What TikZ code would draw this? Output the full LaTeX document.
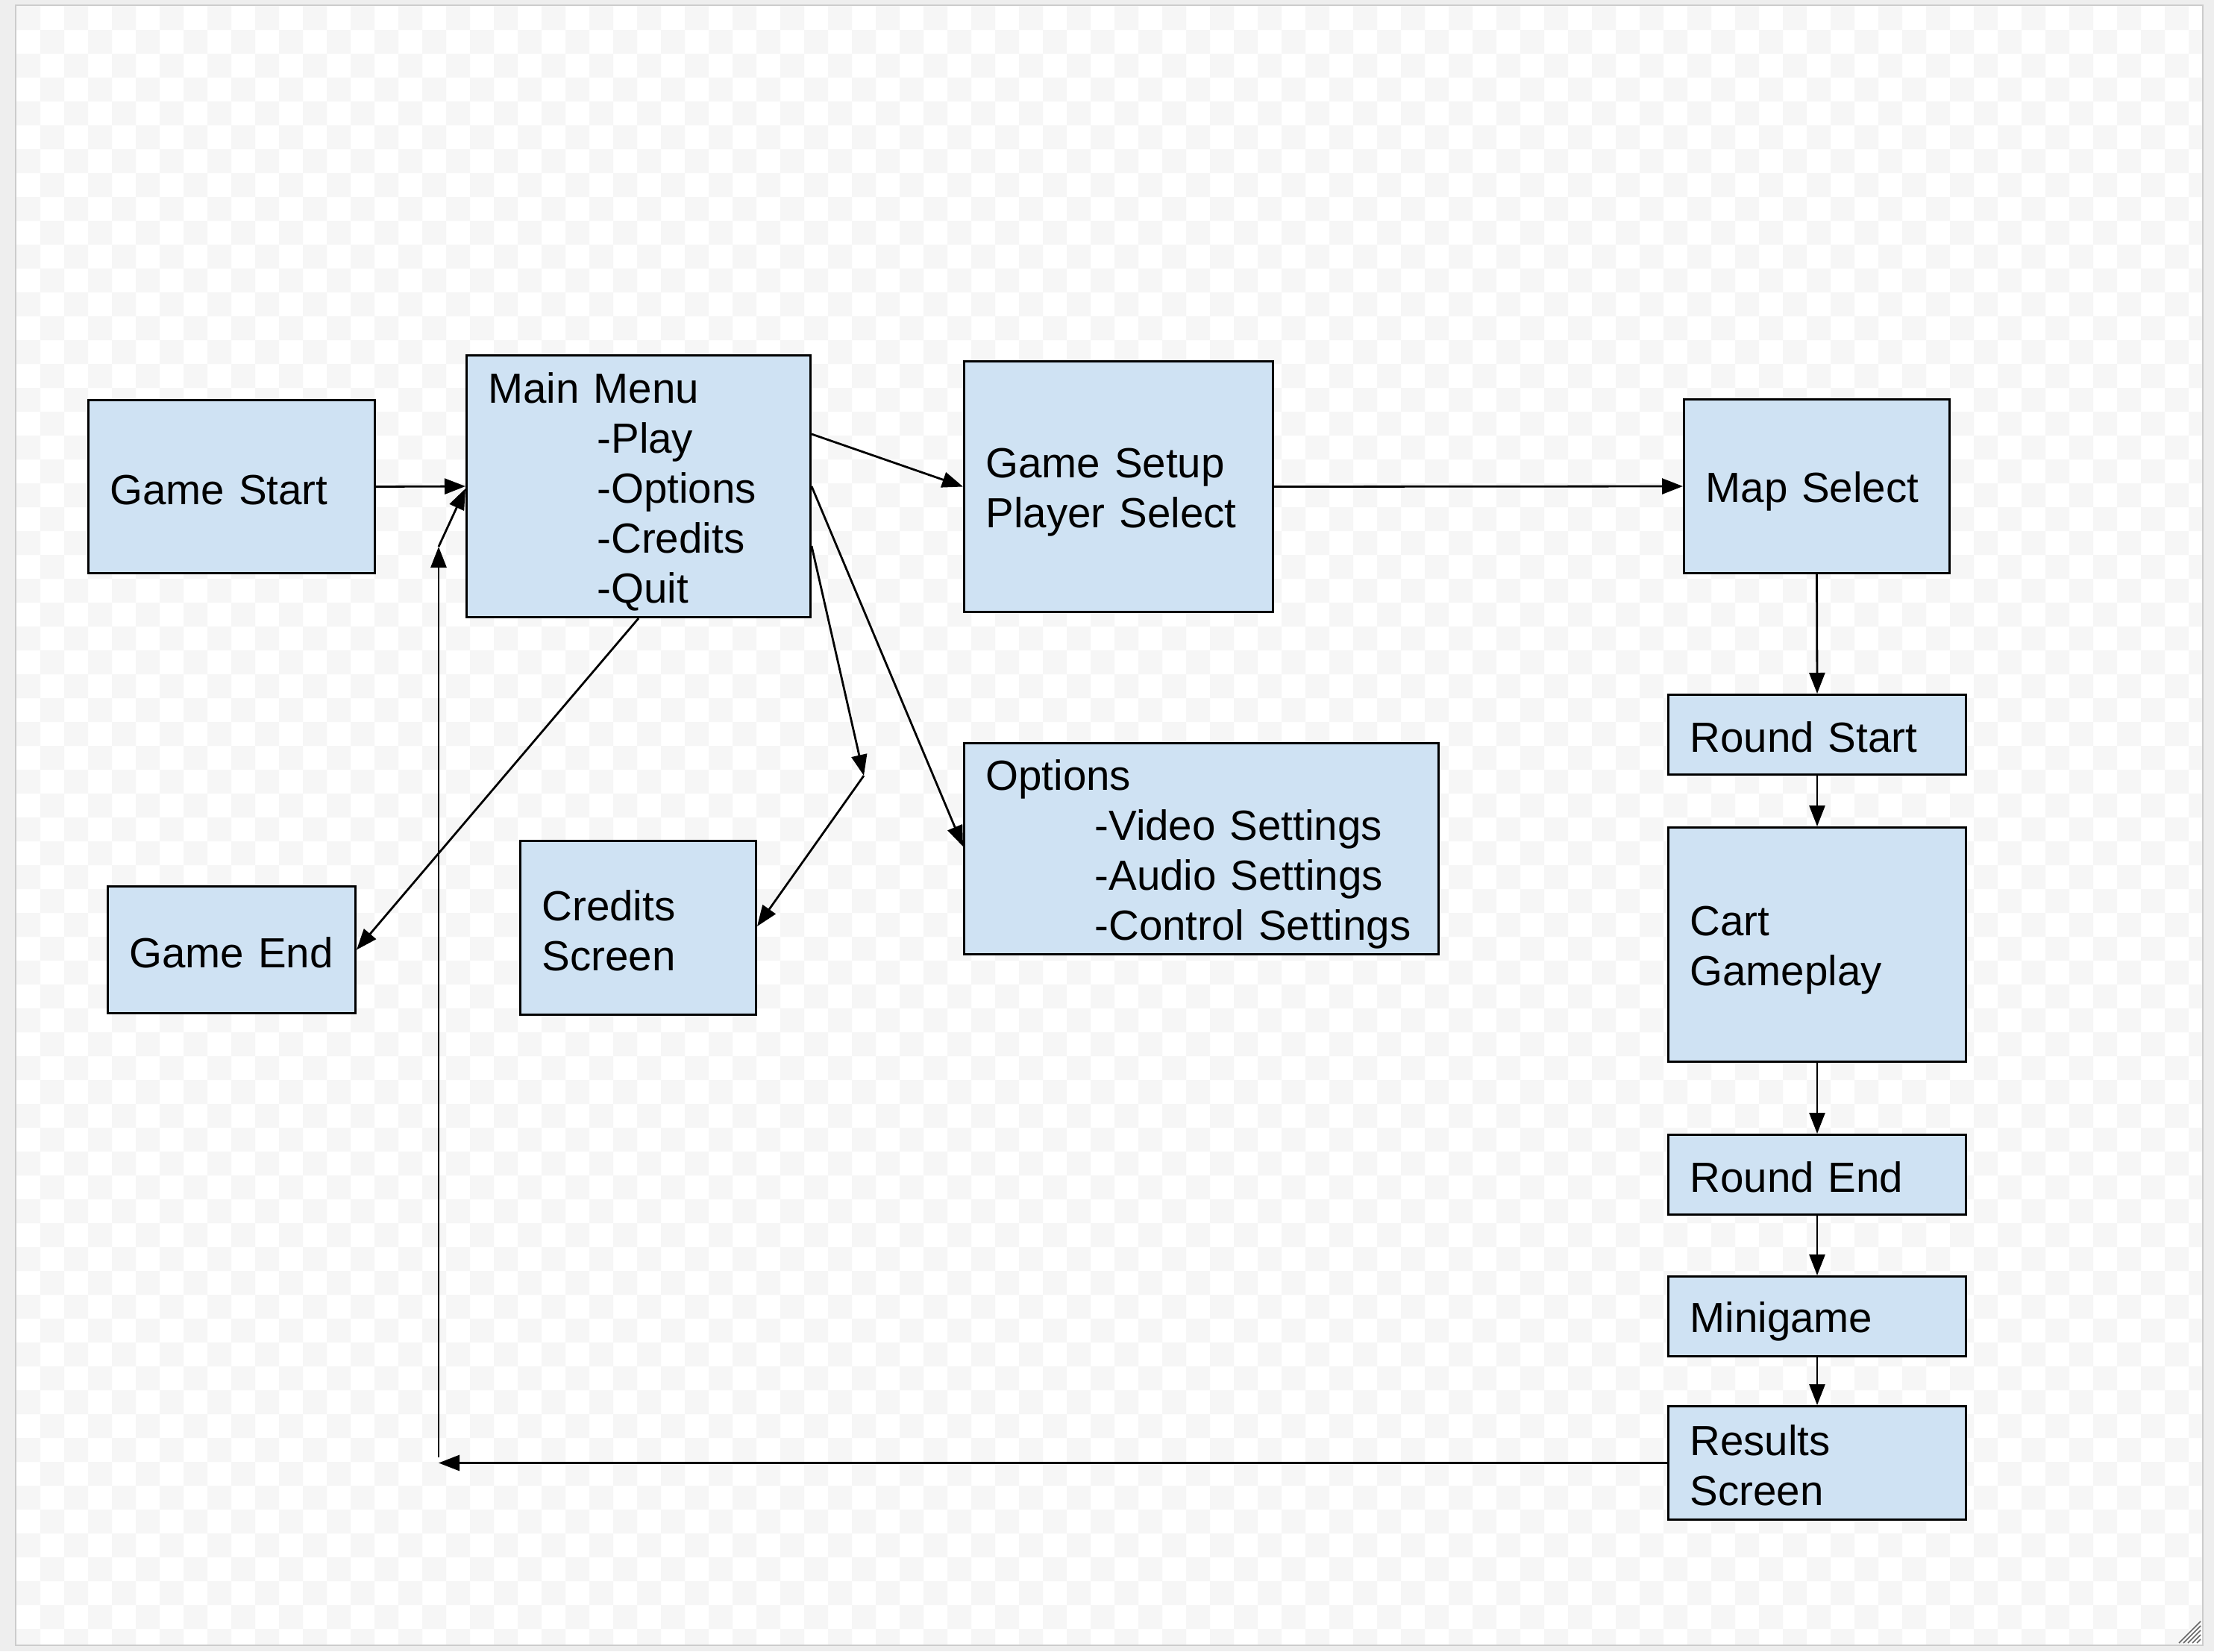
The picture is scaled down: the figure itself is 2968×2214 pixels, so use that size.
\documentclass[tikz,border=0pt]{standalone}
\usepackage{fontspec}
\setmainfont{Liberation Sans}
\usetikzlibrary{arrows.meta}

\definecolor{boxfill}{HTML}{CFE2F3}
\definecolor{pagebg}{HTML}{EEEEEE}
\definecolor{framecol}{HTML}{CCCCCC}
\definecolor{checkcol}{HTML}{F6F6F6}
\definecolor{gripcol}{HTML}{666666}

% fixed line box, so every line sits at the same height in its box
\newcommand\boxstrut{\rule[-8pt]{0pt}{63pt}}
% indented sub-entry of a menu box
\newcommand\optline[1]{\boxstrut\hspace*{146pt}\mbox{#1}}

\begin{document}
\begin{tikzpicture}[x=1pt,y=-1pt,
  stage/.style={rectangle, draw=black, line width=3pt, fill=boxfill,
    inner xsep=29pt, inner ysep=0pt, align=left,
    font=\fontsize{56.5}{67}\selectfont},
  conn/.style={draw=black, line width=2.8pt,
    -{Triangle[length=28pt,width=21pt]}}]

% canvas: grey surround, checkered sheet, thin frame
\fill[pagebg] (0,0) rectangle (2968,2214);
\fill[white] (22,8) rectangle (2952,2205);
\begin{scope}
  \clip (22,8) rectangle (2952,2205);
  \fill[checkcol] \foreach \i in {0,2,...,90} {\foreach \j in {0,2,...,68}
    {({22+32*\i},{8+32*\j}) rectangle ++(32,32)}};
  \fill[checkcol] \foreach \i in {1,3,...,91} {\foreach \j in {1,3,...,67}
    {({22+32*\i},{8+32*\j}) rectangle ++(32,32)}};
\end{scope}
\draw[framecol, line width=2pt] (21,7) rectangle (2953,2206);

% resize grip
\foreach \k in {0,...,4}
  \draw[gripcol, line width=1.6pt] ({2921+6*\k},2203) -- (2950,{2174+6*\k});

% boxes
\node[stage, minimum width=384, minimum height=232, text width=326]
  (gs) at (310.5,652.5) {\boxstrut Game Start};
\node[stage, minimum width=461, minimum height=351, text width=403]
  (mm) at (856,652) {\boxstrut Main Menu\\\optline{-Play}\\\optline{-Options}\\\optline{-Credits}\\\optline{-Quit}};
\node[stage, minimum width=414, minimum height=336, text width=356]
  (setup) at (1499.5,652.5) {\boxstrut Game Setup\\\boxstrut Player Select};
\node[stage, minimum width=356, minimum height=233, text width=298]
  (map) at (2435.5,652) {\boxstrut Map Select};
\node[stage, minimum width=399, minimum height=107, text width=341]
  (rs) at (2436,985) {\boxstrut Round Start};
\node[stage, minimum width=399, minimum height=314, text width=341]
  (cart) at (2436,1266.5) {\boxstrut Cart\\\boxstrut Gameplay};
\node[stage, minimum width=399, minimum height=107, text width=341]
  (re) at (2436,1575) {\boxstrut Round End};
\node[stage, minimum width=399, minimum height=107, text width=341]
  (mini) at (2436,1765) {\boxstrut Minigame};
\node[stage, minimum width=399, minimum height=152, text width=341]
  (res) at (2436,1961.5) {\boxstrut Results\\\boxstrut Screen};
\node[stage, minimum width=636, minimum height=283, text width=578]
  (opt) at (1610.5,1138) {\boxstrut Options\\\optline{-Video Settings}\\\optline{-Audio Settings}\\\optline{-Control Settings}};
\node[stage, minimum width=316, minimum height=233, text width=258]
  (cred) at (855.5,1244) {\boxstrut Credits\\\boxstrut Screen};
\node[stage, minimum width=332, minimum height=170, text width=274]
  (gend) at (310.5,1273.5) {\boxstrut\mbox{Game End}};

% free ends of the broken connectors
\coordinate (cw) at (1158,1040);
\coordinate (retB) at (588,733);
\coordinate (retA) at (res.west -| retB);

% connectors
\draw[conn] (gs.east) -- (mm.west);
\draw[conn] ([yshift=70pt]mm.east) -- (setup.west);
\draw[conn] (mm.east) -- ([yshift=3pt]opt.west);
\draw[conn] ([yshift=-80pt]mm.east) -- (cw);
\draw[conn] (cw) -- ([yshift=2pt]cred.east);
\draw[conn] (mm.south) -- (gend.east);
\draw[conn] (setup.east) -- (map.west);
\draw[conn] (map.south) -- (rs.north);
\draw[conn] (rs.south) -- (cart.north);
\draw[conn] (cart.south) -- (re.north);
\draw[conn] (re.south) -- (mini.north);
\draw[conn] (mini.south) -- (res.north);
\draw[conn] (res.west) -- (retA);
\draw[conn, shorten <=8pt] (retA) -- (retB);
\draw[conn] (retB) -- ([yshift=-3pt]mm.west);
\end{tikzpicture}
\end{document}
